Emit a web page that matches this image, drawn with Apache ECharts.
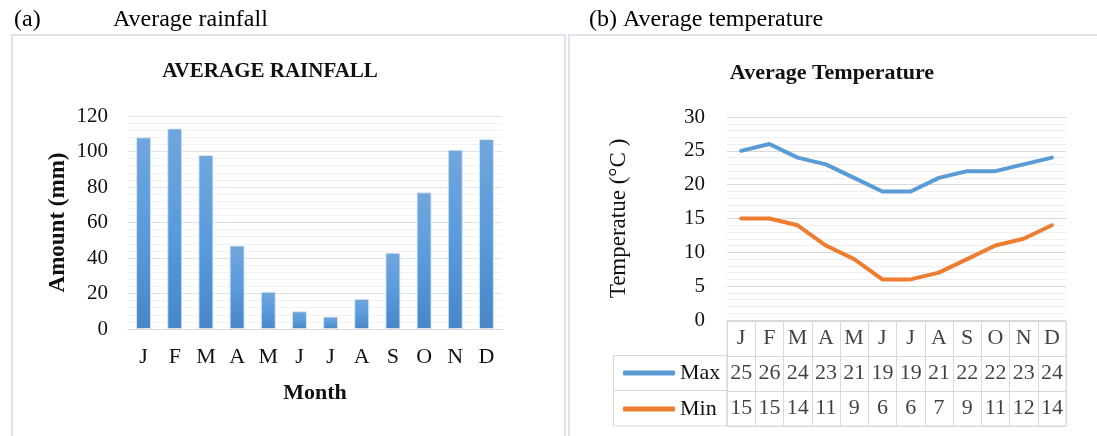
<!DOCTYPE html>
<html>
<head>
<meta charset="utf-8">
<script src="https://cdn.jsdelivr.net/npm/echarts@6/dist/echarts.min.js"></script>
<style>html,body{margin:0;padding:0;background:#fff}#c{width:1097px;height:436px}</style>
</head>
<body>
<div id="c"></div>
<script>
const months = ['J','F','M','A','M','J','J','A','S','O','N','D'];
const rainfall = [108,113,98,47,21,10,7,17,43,77,101,107];
const tempMax = [25,26,24,23,21,19,19,21,22,22,23,24];
const tempMin = [15,15,14,11,9,6,6,7,9,11,12,14];
const tableRows = ['', 'Max', 'Min'];
const rainTicks = {min:0, max:120, interval:20};
const tempTicks = {min:0, max:30, interval:5};

const serif = 'Liberation Serif, Times New Roman, serif';
const tableData = [];
months.forEach((m,i)=>{
  tableData.push([i, 0, m]);
  tableData.push([i, 1, String(tempMax[i])]);
  tableData.push([i, 2, String(tempMin[i])]);
});

const chart = echarts.init(document.getElementById('c'), null, {renderer:'canvas'});
chart.setOption({
  animation:false,
  backgroundColor:'#fff',
  title:[
    {text:'(a)', left:14, top:8, padding:0, textStyle:{fontFamily:serif, fontSize:24, fontWeight:'normal', color:'#000'}},
    {text:'Average rainfall', left:113, top:8, padding:0, textStyle:{fontFamily:serif, fontSize:24, fontWeight:'normal', color:'#000'}},
    {text:'(b) Average temperature', left:589, top:8, padding:0, textStyle:{fontFamily:serif, fontSize:24, fontWeight:'normal', color:'#000'}},
    {text:'AVERAGE RAINFALL', left:270, top:61, padding:0, textAlign:'center', textStyle:{fontFamily:serif, fontSize:21, fontWeight:'bold', color:'#111'}},
    {text:'Average Temperature', left:832, top:62, padding:0, textAlign:'center', textStyle:{fontFamily:serif, fontSize:22, fontWeight:'bold', color:'#111'}}
  ],
  graphic:[
    {type:'rect', shape:{x:12, y:35, width:553, height:420}, style:{fill:'none', stroke:'#dde3ea', lineWidth:2}},
    {type:'rect', shape:{x:569, y:35, width:540, height:420}, style:{fill:'none', stroke:'#dde3ea', lineWidth:2}},
    {type:'rect', shape:{x:613.5, y:355.5, width:113.5, height:70.5}, style:{fill:'none', stroke:'#d9d9d9', lineWidth:1}},
    {type:'line', shape:{x1:613.5, y1:390.5, x2:727, y2:390.5}, style:{stroke:'#d9d9d9', lineWidth:1}}
  ],
  legend:{
    data:['Max','Min'], orient:'vertical', left:618, top:357, itemGap:14,
    itemWidth:52, itemHeight:5, icon:'roundRect',
    textStyle:{fontFamily:serif, fontSize:22, color:'#111'}
  },
  grid:[
    {left:128, right:595, top:116, bottom:107},
    {left:727, right:31, top:117, bottom:116},
    {left:727, right:31, top:321, bottom:10, show:true, borderColor:'#d9d9d9', borderWidth:1}
  ],
  xAxis:[
    {type:'category', gridIndex:0, data:months,
     name:'Month', nameLocation:'middle', nameGap:53,
     nameTextStyle:{fontFamily:serif, fontSize:22, fontWeight:'bold', color:'#111'},
     axisLine:{lineStyle:{color:'#d9d9d9'}}, axisTick:{show:false},
     axisLabel:{fontFamily:serif, fontSize:22, color:'#111', margin:17, interval:0}},
    {type:'category', gridIndex:1, data:months,
     axisLine:{show:false}, axisTick:{show:false}, axisLabel:{show:false}},
    {type:'category', gridIndex:2, data:months,
     axisLine:{show:false}, axisTick:{show:false}, axisLabel:{show:false},
     splitLine:{show:true, interval:0, lineStyle:{color:'#d9d9d9'}}}
  ],
  yAxis:[
    {type:'value', gridIndex:0, min:rainTicks.min, max:rainTicks.max, interval:rainTicks.interval,
     name:'Amount (mm)', nameLocation:'middle', nameGap:58,
     nameTextStyle:{fontFamily:serif, fontSize:23, fontWeight:'bold', color:'#111'},
     axisLine:{show:false}, axisTick:{show:false},
     axisLabel:{fontFamily:serif, fontSize:21, color:'#111', margin:20},
     splitLine:{lineStyle:{color:'#dde3ec'}},
     minorTick:{show:false, splitNumber:5},
     minorSplitLine:{show:true, lineStyle:{color:'#f2f2f2'}}},
    {type:'value', gridIndex:1, min:tempTicks.min, max:tempTicks.max, interval:tempTicks.interval,
     name:'Temperatue (\u00B0C )', nameLocation:'middle', nameGap:97,
     nameTextStyle:{fontFamily:serif, fontSize:23, color:'#111'},
     axisLine:{show:false}, axisTick:{show:false},
     axisLabel:{fontFamily:serif, fontSize:21, color:'#111', margin:22},
     splitLine:{lineStyle:{color:'#d9d9d9'}},
     minorTick:{show:false, splitNumber:5},
     minorSplitLine:{show:true, lineStyle:{color:'#efefef'}}},
    {type:'category', gridIndex:2, data:tableRows, inverse:true,
     axisLine:{show:false}, axisTick:{show:false}, axisLabel:{show:false},
     splitLine:{show:true, interval:0, lineStyle:{color:'#d9d9d9'}}}
  ],
  series:[
    {type:'bar', xAxisIndex:0, yAxisIndex:0, data:rainfall, barWidth:'48%',
     itemStyle:{
       color:new echarts.graphic.LinearGradient(0,0,0,1,[
         {offset:0, color:'#70a6dc'},{offset:0.5, color:'#5a9bdc'},{offset:1, color:'#4787c8'}]),
       borderColor:'rgba(220,232,245,0.9)', borderWidth:1}},
    {name:'Max', type:'line', xAxisIndex:1, yAxisIndex:1, data:tempMax, showSymbol:false,
     lineStyle:{width:4, color:'#5b9bd5', join:'round', cap:'round'}, itemStyle:{color:'#5b9bd5'}},
    {name:'Min', type:'line', xAxisIndex:1, yAxisIndex:1, data:tempMin, showSymbol:false,
     lineStyle:{width:4, color:'#ed7d31', join:'round', cap:'round'}, itemStyle:{color:'#ed7d31'}},
    {type:'scatter', xAxisIndex:2, yAxisIndex:2, data:tableData, symbolSize:1,
     itemStyle:{color:'rgba(0,0,0,0)'},
     label:{show:true, position:'inside', formatter:p=>p.value[2],
       fontFamily:serif, fontSize:22, color:'#111'}}
  ]
});
</script>
</body>
</html>
